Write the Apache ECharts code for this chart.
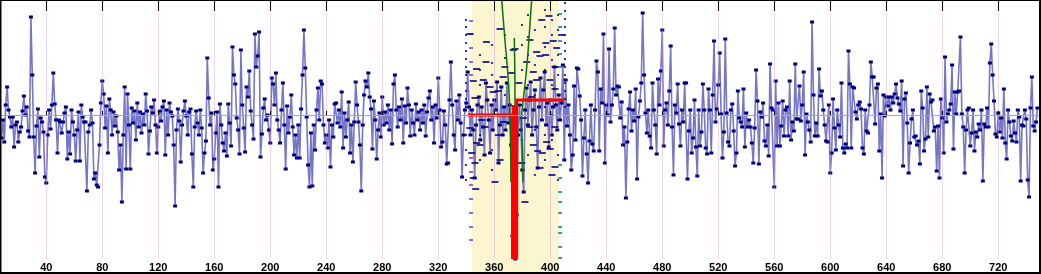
<!DOCTYPE html>
<html><head><meta charset="utf-8">
<script src="https://cdn.jsdelivr.net/npm/echarts@6/dist/echarts.min.js"></script>
<style>html,body{margin:0;padding:0;background:#fff}#c{width:1041px;height:274px}</style>
</head><body><div id="c"></div>
<script>
// x of the first value
const START = 8;
// series values, one per step (index 8 .. 748)
const values = [
-23,-5,-27,10,28,5,-2,-12,-2,-32,
-10,-7,-27,-17,-12,4,19,0,8,-16,
-22,98,40,-22,-58,-11,6,-42,-3,-7,
-17,-62,-68,-20,5,-14,10,42,11,-5,
-38,-5,-7,-18,-7,2,8,-44,-17,-39,
5,-7,-20,-46,-15,3,-46,10,-2,-7,
-7,-76,-17,-10,5,-8,-64,-58,-70,-72,
-30,12,34,21,-13,9,-38,16,5,-20,
3,-11,-1,-17,-55,-30,-87,-20,28,-54,
21,-10,-54,7,-8,4,-25,12,-12,3,
-18,1,-10,21,4,-39,-16,8,2,15,
-10,-38,-12,4,-6,8,14,-40,5,-20,
12,3,-1,-30,-91,-15,6,-6,-47,-10,
4,14,-1,-20,3,6,-39,-72,-12,4,
-8,-20,5,-13,-58,-38,-26,57,17,-10,
2,-55,-44,-18,3,-72,11,-10,-28,-36,
-18,-41,11,-8,-31,68,40,31,-3,-15,
-39,65,10,-13,-37,28,18,44,4,-10,
-24,81,48,59,83,-42,-19,7,16,-5,
0,-15,-28,37,31,10,42,-5,-15,-28,
5,32,-10,-54,9,-18,-2,20,-12,-40,
-20,-43,-10,-43,6,40,85,47,-2,-50,
-72,-18,-71,-10,-35,5,27,-5,34,31,
-10,-28,-20,-33,-5,-52,-10,-22,11,12,
-8,5,-12,23,-33,2,-22,-5,13,-38,
-10,-47,-7,33,10,-7,-30,-76,-10,20,
34,28,42,18,6,-34,14,-5,-44,-15,
2,-22,18,-10,3,-8,10,-15,5,-29,
31,40,5,-12,8,-5,16,-28,9,-8,
27,10,-21,5,-8,-20,11,-5,3,-15,
5,-8,10,-21,3,17,24,-5,8,-28,
10,-3,37,5,-32,-27,4,-10,-49,-48,
15,53,10,-20,-35,14,-5,20,-8,-62,
-20,5,12,43,8,-20,5,-15,-63,-10,
10,18,-25,8,-12,-40,32,15,-5,-38,
10,-15,15,5,33,-48,-10,28,-20,8,
-15,32,-8,10,-30,-121,-125,-144,-100,-20,
10,-15,-55,-77,5,27,-10,15,33,-20,
5,25,-12,-53,8,37,-5,25,43,-10,
12,-32,15,-20,8,48,10,-15,20,-5,
12,50,-45,35,-11,10,-20,-55,-40,29,
-25,47,46,19,-5,-61,-23,5,-39,-68,
-26,10,-29,-36,5,54,43,-36,26,12,
81,-48,10,0,66,-7,10,26,87,20,
29,28,-3,13,-30,-12,-83,-27,6,23,
-16,5,-6,26,-64,-2,14,32,102,40,
2,-18,5,-21,-33,32,5,-10,-39,36,
10,44,85,-31,5,12,-10,24,69,-12,
-60,10,2,31,-9,-31,5,-7,32,32,
-64,-16,5,-38,-23,15,-32,-61,5,-31,
-17,31,5,-33,-39,26,5,-38,20,74,
-7,6,30,62,1,-43,-17,76,2,-27,
-31,5,11,-16,-51,-38,24,-3,-7,-12,
26,-32,2,-12,-5,-12,-28,-48,-13,45,
14,-49,3,-2,12,-26,-31,-10,-41,51,
7,5,-72,34,-31,12,-31,-11,14,-21,
5,8,-21,34,-25,-7,-16,51,-4,-4,
29,-6,10,43,-40,1,-7,-15,-27,93,
20,-21,-8,-21,46,19,24,5,-10,-26,
-27,10,-58,-38,16,-13,-35,5,-10,-22,
32,-33,-38,-29,-33,64,31,-33,28,27,
3,-4,10,13,6,-33,-39,5,-16,-18,
10,53,38,38,-9,27,31,-36,1,-63,
20,-1,18,9,18,5,18,12,21,31,
17,11,4,34,-51,16,22,-8,-58,-28,
-4,5,-22,-21,-30,-26,-49,24,7,-36,
-24,28,-22,21,13,15,-16,-12,-56,-11,
-63,16,-3,-38,58,-7,1,5,11,50,
-34,23,1,23,24,78,1,-12,-58,-15,
5,7,-31,-18,5,-36,-17,-22,-9,-15,
5,-66,-9,-12,7,-12,52,71,40,14,
-19,-22,2,-17,-3,-23,26,-28,-44,5,
-7,-21,-26,-6,-18,-27,5,-2,-66,-10,
-11,5,-4,-65,-82,7,38,-11,-16,-7,
7
];
// axis tick labels
const tickValues = [40,80,120,160,200,240,280,320,360,400,440,480,520,560,600,640,680,720];
const xRange = [7.64, 749.1];
const yRange = [-144, 114];
// highlighted window
const bandRange = [344, 406];
// red step fit (levels before / after the change point)
const redLow = [[341,0],[373,0],[373,-144]];
const redHigh = [[376,-144],[376,15],[410,15]];
const redBar = [[374.5,-144],[374.5,10]];
// green bound curves
const green1 = [[365.3,115],[367.6,75],[370,35],[371.2,0],[371.9,-67]];
const green2 = [[386.7,115],[384.8,77],[383.8,58],[382.5,38],[380.7,15],[379.6,-3],[380.3,-45],[380.5,-67]];
const green3 = [[374.3,77],[374.8,15],[374.4,-30]];
// short horizontal dashes inside the window
const dashes = [
[342.6,81],[354.4,73],[364.1,86],[393.9,95],[399.1,99],[408.0,80],[396.9,72],[374.8,66],[383.1,53],[390.3,63],
[404.6,67],[347.3,46],[354.1,53],[367.6,48],[392.6,59],[387.9,43],[403.4,48],[377.6,32],[345.0,34],[352.2,35],
[356.9,28],[362.9,24],[366.4,38],[372.4,42],[390.3,35],[399.8,35],[403.4,26],[386.7,18],[393.9,15],[346.2,17],
[359.3,23],[385.5,75],[402.1,74],[396.7,60],[373.6,65],
[347.4,-28],[349.8,-30],[346.2,-48],[345.0,-63],[346.7,-74],[360.5,-67],[364.1,-45],[362.9,-20],[366.4,-7],[380.7,-3],
[385.5,-12],[387.9,-30],[391.0,-36],[394.3,-38],[397.4,-27],[399.8,-34],[403.4,-52],[401.2,-60],[403.4,-12],[381.9,-87],
[392.6,-53],[379.6,-48],[353.4,-12],[351.0,-5],[342.6,-13],[343.9,-38]
];
// dotted columns inside the window
const dotColumns = [
[339.8,[95,88,80,72,64,56,48,40,32,24,16,8,-20,-35,-50,-65]],
[410.5,[112,104,96,88,80,72,64,56,48,40,32,24,16,8]],
[349.8,[60,45,30,0,-20,-45]],
[358.4,[70,52,40,10,-35,-55]],
[367.6,[80,57,20,-15]],
[379.8,[90,70,45,10,-25]],
[384.1,[100,78,60,30,-40]],
[389.0,[85,50,20,-15,-60]],
[396.2,[105,88,68,45,8,-20,-45]],
[401.2,[95,80,55,30,0,-25]],
[405.5,[100,85,60,40,20,-5,-40,-65]]
];
// edge marks of the window
const leftMarks = [343.4,[94,81,67,53,40,-43,-57,-70,-84,-98,-112,-125]];
const rightMarks = [407.0,[101,88,74,61,48,-50,-63,-77,-87,-98,-112,-118,-132,-143]];

const lineData = values.map((v,k)=>[START+k, v]);
const dotData = [];
dotColumns.forEach(c=>c[1].forEach(v=>dotData.push([c[0],v])));
const leftData = leftMarks[1].map(v=>[leftMarks[0],v]);
const rightData = rightMarks[1].map(v=>[rightMarks[0],v]);

const chart = echarts.init(document.getElementById('c'), null, {renderer:'canvas'});
const yellow = '#fcf6d0';
const red = {color:'#ff0000',width:3,join:'miter',cap:'butt'};
chart.setOption({
  animation:false,
  backgroundColor:'#ffffff',
  grid:[
    {left:1,right:2,top:1,bottom:15},
    {left:1,right:2,top:259,bottom:0}
  ],
  xAxis:[
    {type:'value',gridIndex:0,min:xRange[0],max:xRange[1],position:'bottom',z:10,
     axisLine:{show:true,lineStyle:{color:'#f0a014',width:1}},
     axisTick:{show:true,inside:true,length:4,customValues:tickValues,lineStyle:{color:'#000'}},
     axisLabel:{show:true,customValues:tickValues,fontSize:11,fontWeight:'bold',color:'#000',margin:3,fontFamily:'Liberation Sans, Arial, sans-serif'},
     splitLine:{show:false}},
    {type:'value',gridIndex:0,min:xRange[0],max:xRange[1],position:'top',z:10,
     axisLine:{show:false},
     axisTick:{show:true,inside:true,length:10,customValues:tickValues,lineStyle:{color:'#000'}},
     axisLabel:{show:false},splitLine:{show:false}},
    {type:'value',gridIndex:1,min:xRange[0],max:xRange[1],show:false}
  ],
  yAxis:[
    {type:'value',gridIndex:0,min:yRange[0],max:yRange[1],show:false},
    {type:'value',gridIndex:1,min:0,max:1,show:false}
  ],
  series:[
    {type:'line',xAxisIndex:0,yAxisIndex:0,z:1,silent:true,symbol:'none',data:[[START,0]],lineStyle:{width:0},
     markArea:{silent:true,itemStyle:{color:yellow},data:[[{xAxis:bandRange[0]},{xAxis:bandRange[1]}]]},
     markLine:{silent:true,symbol:['none','none'],label:{show:false},
       data: tickValues.map(t=>({xAxis:t,lineStyle:{color:'rgba(220,150,220,0.4)',width:1,type:'solid'}}))
         .concat([{yAxis:0,lineStyle:{color:'#666666',width:1,type:'solid'}}])}
    },
    {type:'line',xAxisIndex:2,yAxisIndex:1,z:1,silent:true,symbol:'none',data:[[START,0.5]],lineStyle:{width:0},
     markArea:{silent:true,itemStyle:{color:yellow},data:[[{xAxis:bandRange[0]},{xAxis:bandRange[1]}]]}
    },
    {type:'line',name:'series',xAxisIndex:0,yAxisIndex:0,z:3,data:lineData,
     showSymbol:true,symbol:'rect',symbolSize:[4,3],
     itemStyle:{color:'#000080'},lineStyle:{color:'#7676c6',width:1.6}},
    {type:'scatter',xAxisIndex:0,yAxisIndex:0,z:4,data:dotData,symbol:'rect',symbolSize:[2,2],itemStyle:{color:'#000080'}},
    {type:'scatter',xAxisIndex:0,yAxisIndex:0,z:4,data:leftData,symbol:'rect',symbolSize:[4,2],itemStyle:{color:'#8a3cc8'}},
    {type:'scatter',xAxisIndex:0,yAxisIndex:0,z:4,data:rightData,symbol:'rect',symbolSize:[4,2],itemStyle:{color:'#008a8a'}},
    {type:'scatter',xAxisIndex:0,yAxisIndex:0,z:5,data:dashes,symbol:'rect',symbolSize:[7,2],itemStyle:{color:'#000080'}},
    {type:'line',xAxisIndex:0,yAxisIndex:0,z:6,data:green1,symbol:'none',smooth:true,lineStyle:{color:'#007800',width:1.5}},
    {type:'line',xAxisIndex:0,yAxisIndex:0,z:6,data:green2,symbol:'none',smooth:true,lineStyle:{color:'#007800',width:1.5}},
    {type:'line',xAxisIndex:0,yAxisIndex:0,z:6,data:green3,symbol:'none',smooth:true,lineStyle:{color:'#007800',width:1.5}},
    {type:'line',xAxisIndex:0,yAxisIndex:0,z:7,data:redBar,symbol:'none',lineStyle:{color:'#ff0000',width:6,cap:'butt'}},
    {type:'line',xAxisIndex:0,yAxisIndex:0,z:7,data:redLow,symbol:'none',lineStyle:red},
    {type:'line',xAxisIndex:0,yAxisIndex:0,z:7,data:redHigh,symbol:'none',lineStyle:red}
  ],
  graphic:[
    {type:'rect',z:100,silent:true,shape:{x:0,y:0,width:1041,height:1},style:{fill:'#000'}},
    {type:'rect',z:100,silent:true,shape:{x:0,y:0,width:1.5,height:274},style:{fill:'#000'}},
    {type:'rect',z:100,silent:true,shape:{x:1039,y:0,width:2,height:274},style:{fill:'#000'}},
    {type:'rect',z:100,silent:true,shape:{x:0,y:272,width:1041,height:2},style:{fill:'#000'}}
  ]
});
</script>
</body></html>
